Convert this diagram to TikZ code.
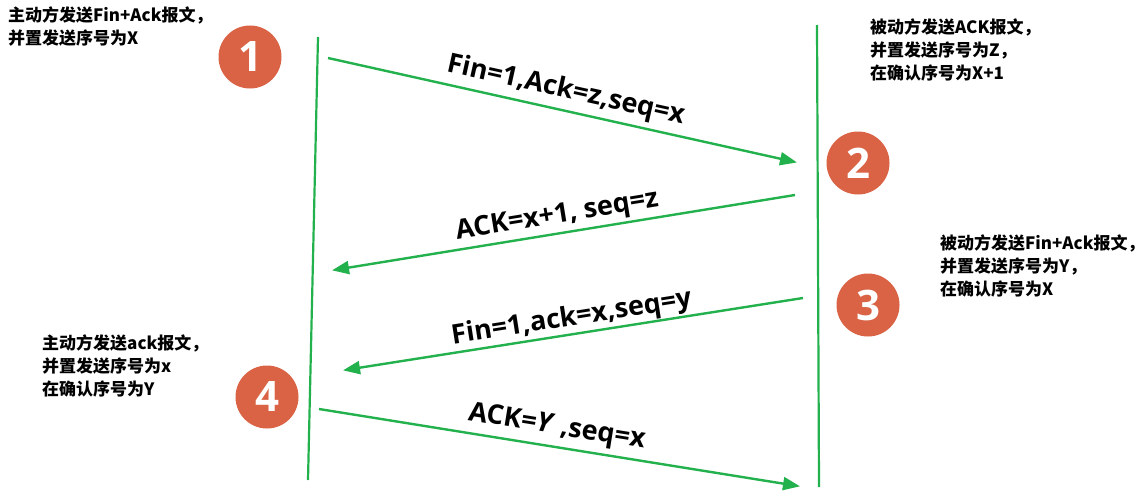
\documentclass[tikz,border=0pt]{standalone}
\usepackage{fontspec}
\setmainfont{Open Sans}
\newfontfamily\cjk{Noto Sans CJK SC}
\usetikzlibrary{arrows.meta}
\definecolor{lgreen}{RGB}{34,177,76}
\definecolor{bubble}{RGB}{217,99,68}
\tikzset{
  lifeline/.style={draw=lgreen, line width=2.2pt},
  msg/.style={draw=lgreen, line width=2.4pt, -{Triangle[length=17pt,width=13pt]}, shorten >=-2pt},
  msglabel/.style={sloped, inner sep=0pt, font=\bfseries\fontsize{27}{30}\selectfont},
  bubblenode/.style={circle, fill=bubble, minimum size=63pt, inner sep=0pt, text=white, font=\bfseries\fontsize{42}{42}\selectfont},
  note/.style={align=left, anchor=west, inner sep=0pt, font=\cjk\bfseries\fontsize{17}{23}\selectfont}
}
\begin{document}
\begin{tikzpicture}[x=1pt,y=-1pt]
\useasboundingbox (0,0) rectangle (1142,495);
% lifelines
\coordinate (Ltop) at (318,37);
\coordinate (Lbot) at (308,480);
\coordinate (Rtop) at (817,25);
\coordinate (Rbot) at (819,487);
\draw[lifeline] (Ltop) -- (Lbot);
\draw[lifeline] (Rtop) -- (Rbot);
% arrow endpoints
\coordinate (a1s) at (328,58);
\coordinate (a1e) at (795,162);
\coordinate (a2s) at (795,195);
\coordinate (a2e) at (334,270);
\coordinate (a3s) at (803,298);
\coordinate (a3e) at (345,370);
\coordinate (a4s) at (319,409);
\coordinate (a4e) at (798,486);
\draw[msg] (a1s) -- node[msglabel, above=5pt, pos=0.5] {Fin=1,Ack=z,seq=x} (a1e);
\draw[msg] (a2s) -- node[msglabel, above=3pt, pos=0.51] {ACK=x+1, seq=z} (a2e);
\draw[msg] (a3s) -- node[msglabel, above=1pt, pos=0.5] {Fin=1,ack=x,seq=y} (a3e);
\draw[msg] (a4s) -- node[msglabel, above=5pt, pos=0.49] {ACK=\textit{Y} ,seq=x} (a4e);
% bubbles
\node[bubblenode] (c1) at (250,57) {1};
\node[bubblenode] (c2) at (858,163) {2};
\node[bubblenode] (c3) at (868,305) {3};
\node[bubblenode] (c4) at (267,397) {4};
% notes
\node[note] (n1) at (8,26) {主动方发送Fin+Ack报文，\\并置发送序号为X};
\node[note] (n2) at (870,50) {被动方发送ACK报文，\\并置发送序号为Z，\\在确认序号为X+1};
\node[note] (n3) at (940,266) {被动方发送Fin+Ack报文，\\并置发送序号为Y，\\在确认序号为X};
\node[note] (n4) at (42,366) {主动方发送ack报文，\\并置发送序号为x\\在确认序号为Y};
\end{tikzpicture}
\end{document}
